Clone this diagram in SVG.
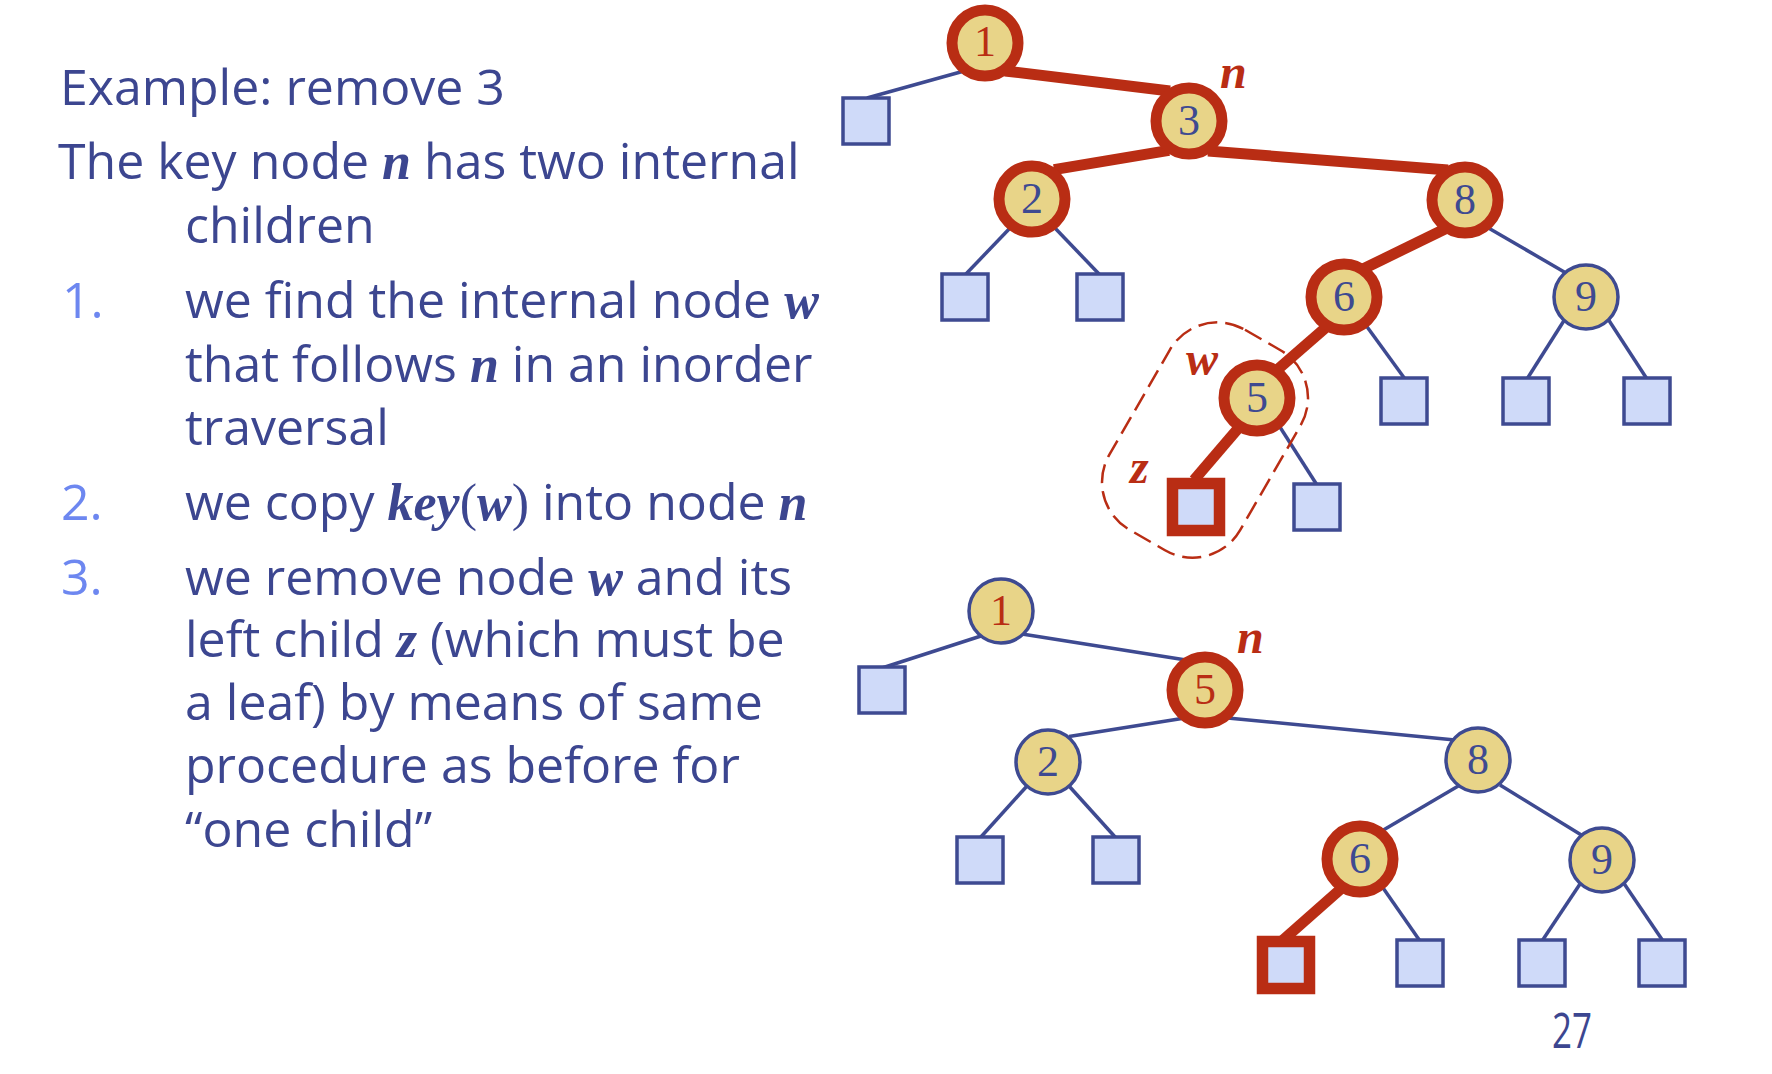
<svg xmlns="http://www.w3.org/2000/svg" width="1772" height="1074" viewBox="0 0 1772 1074">
  <style>
    .edge { stroke: #3E4A91; stroke-width: 3.5; fill: none; }
    .hot { stroke: #B92D14; stroke-width: 11; fill: none; }
    .inode { fill: #E8D488; stroke: #3E4A91; stroke-width: 3.5; }
    .inode.sel { stroke: #B92D14; stroke-width: 11; }
    .leaf { fill: #CFDAF9; stroke: #3E4A91; stroke-width: 3.5; }
    .leaf.sel { stroke: #B92D14; stroke-width: 11.5; }
    .key { font-family: "Liberation Serif", "Times New Roman", serif; font-size: 44px; fill: #3E4A91; text-anchor: middle; }
    .key.red { fill: #B92D14; }
    .lbl { font-family: "Liberation Serif", "Times New Roman", serif; font-weight: bold; font-style: italic; font-size: 48px; fill: #B92D14; }
    .body { font-family: "Open Sans", "Noto Sans", sans-serif; font-size: 50px; fill: #3C4690; }
    .num { fill: #6D87F0; }
    .var { font-family: "Liberation Serif", "Times New Roman", serif; font-weight: bold; font-style: italic; font-size: 52px; }
    .par { font-family: "Liberation Serif", "Times New Roman", serif; font-size: 52px; }
    .group { fill: none; stroke: #B92D14; stroke-width: 2.5; stroke-dasharray: 19 8; }
  </style>

  <rect x="0" y="0" width="1772" height="1074" fill="#FFFFFF"/>

  <!-- explanation text -->
  <g id="text">
    <text class="body" x="60" y="105">Example: remove 3</text>
    <text class="body" x="58" y="179">The key node <tspan class="var">n</tspan> has two internal</text>
    <text class="body" x="185" y="243">children</text>
    <text class="body num" x="62" y="318">1.</text>
    <text class="body" x="185" y="318">we find the internal node <tspan class="var">w</tspan></text>
    <text class="body" x="185" y="382">that follows <tspan class="var">n</tspan> in an inorder</text>
    <text class="body" x="185" y="445">traversal</text>
    <text class="body num" x="61" y="520">2.</text>
    <text class="body" x="185" y="520">we copy <tspan class="var">key</tspan><tspan class="par">(</tspan><tspan class="var">w</tspan><tspan class="par">)</tspan> into node <tspan class="var">n</tspan></text>
    <text class="body num" x="61" y="595">3.</text>
    <text class="body" x="185" y="595">we remove node <tspan class="var">w</tspan> and its</text>
    <text class="body" x="185" y="657">left child <tspan class="var">z</tspan> (which must be</text>
    <text class="body" x="185" y="720">a leaf) by means of same</text>
    <text class="body" x="185" y="783">procedure as before for</text>
    <text class="body" x="185" y="847">“one child”</text>
    <text class="body" x="1552" y="1048" font-size="36" textLength="40" lengthAdjust="spacingAndGlyphs">27</text>
  </g>

  <!-- connectors, upper tree -->
  <g id="connectors-before">
    <line class="edge" x1="965" y1="70.7" x2="867" y2="98"/>
    <line class="edge" x1="1011" y1="227" x2="965" y2="275"/>
    <line class="edge" x1="1054" y1="227" x2="1100" y2="275"/>
    <line class="edge" x1="1485" y1="226" x2="1566" y2="273"/>
    <line class="edge" x1="1365" y1="324" x2="1405" y2="379"/>
    <line class="edge" x1="1565" y1="319" x2="1527" y2="379"/>
    <line class="edge" x1="1608" y1="319" x2="1647" y2="379"/>
    <line class="edge" x1="1278" y1="424" x2="1317" y2="485"/>
    <line class="hot" x1="1005" y1="71" x2="1170" y2="91"/>
    <line class="hot" x1="1169" y1="150.3" x2="1054" y2="169.7"/>
    <line class="hot" x1="1208" y1="151" x2="1448" y2="170"/>
    <line class="hot" x1="1446" y1="228.5" x2="1364" y2="268.5"/>
    <line class="hot" x1="1326" y1="327.4" x2="1274" y2="372.6"/>
    <line class="hot" x1="1238.3" y1="428.2" x2="1194" y2="480"/>
  </g>

  <!-- connectors, lower tree -->
  <g id="connectors-after">
    <line class="edge" x1="981" y1="636" x2="882" y2="668"/>
    <line class="edge" x1="1022" y1="634" x2="1186" y2="660"/>
    <line class="edge" x1="1185" y1="718" x2="1069" y2="736.5"/>
    <line class="edge" x1="1225" y1="717.7" x2="1455" y2="740"/>
    <line class="edge" x1="1027" y1="786" x2="980" y2="838"/>
    <line class="edge" x1="1069" y1="786" x2="1116" y2="838"/>
    <line class="edge" x1="1460" y1="785" x2="1380" y2="832"/>
    <line class="edge" x1="1500" y1="785" x2="1583" y2="836"/>
    <line class="edge" x1="1381" y1="885" x2="1420" y2="941"/>
    <line class="edge" x1="1580" y1="884" x2="1542" y2="941"/>
    <line class="edge" x1="1623" y1="882" x2="1663" y2="941"/>
    <line class="hot" x1="1343" y1="887" x2="1283" y2="940"/>
  </g>

  <!-- upper tree: before removal -->
  <g id="a-n1"><circle class="inode sel" cx="985" cy="43" r="33"/><text class="key red" x="985" y="56">1</text></g>
  <g id="a-l1"><rect class="leaf" x="843" y="98" width="46" height="46"/></g>
  <g id="a-n3"><circle class="inode sel" cx="1189" cy="121" r="33"/><text class="key" x="1189" y="135">3</text></g>
  <g id="a-n2"><circle class="inode sel" cx="1032" cy="199" r="33"/><text class="key" x="1032" y="213">2</text></g>
  <g id="a-l2"><rect class="leaf" x="942" y="274" width="46" height="46"/></g>
  <g id="a-l3"><rect class="leaf" x="1077" y="274" width="46" height="46"/></g>
  <g id="a-n8"><circle class="inode sel" cx="1465" cy="200" r="33"/><text class="key" x="1465" y="214">8</text></g>
  <g id="a-n6"><circle class="inode sel" cx="1344" cy="297" r="33"/><text class="key" x="1344" y="311">6</text></g>
  <g id="a-n9"><circle class="inode" cx="1586" cy="297" r="32"/><text class="key" x="1586" y="311">9</text></g>
  <g id="a-l4"><rect class="leaf" x="1381" y="378" width="46" height="46"/></g>
  <g id="a-l5"><rect class="leaf" x="1503" y="378" width="46" height="46"/></g>
  <g id="a-l6"><rect class="leaf" x="1624" y="378" width="46" height="46"/></g>
  <g id="a-n5"><circle class="inode sel" cx="1257" cy="398" r="33"/><text class="key" x="1257" y="412">5</text></g>
  <g id="a-z"><rect class="leaf sel" x="1172.5" y="483.5" width="47" height="47"/></g>
  <g id="a-l7"><rect class="leaf" x="1294" y="484" width="46" height="46"/></g>

  <!-- upper tree labels and the w/z grouping -->
  <g id="a-labels">
    <text class="lbl" x="1220" y="88">n</text>
    <rect class="group" x="1129.5" y="324.5" width="151" height="231" rx="55" ry="55" transform="rotate(30 1205 440)"/>
    <text class="lbl" x="1186" y="375">w</text>
    <text class="lbl" x="1130" y="483">z</text>
  </g>

  <!-- lower tree: after removal -->
  <g id="b-n1"><circle class="inode" cx="1001" cy="611" r="32"/><text class="key red" x="1001" y="625">1</text></g>
  <g id="b-l1"><rect class="leaf" x="859" y="667" width="46" height="46"/></g>
  <g id="b-n5"><circle class="inode sel" cx="1205" cy="690" r="33"/><text class="key red" x="1205" y="704">5</text></g>
  <g id="b-n2"><circle class="inode" cx="1048" cy="762" r="32"/><text class="key" x="1048" y="776">2</text></g>
  <g id="b-l2"><rect class="leaf" x="957" y="837" width="46" height="46"/></g>
  <g id="b-l3"><rect class="leaf" x="1093" y="837" width="46" height="46"/></g>
  <g id="b-n8"><circle class="inode" cx="1478" cy="760" r="32"/><text class="key" x="1478" y="774">8</text></g>
  <g id="b-n6"><circle class="inode sel" cx="1360" cy="859" r="33"/><text class="key" x="1360" y="873">6</text></g>
  <g id="b-n9"><circle class="inode" cx="1602" cy="860" r="32"/><text class="key" x="1602" y="874">9</text></g>
  <g id="b-z"><rect class="leaf sel" x="1262.5" y="941.5" width="47" height="47"/></g>
  <g id="b-l4"><rect class="leaf" x="1397" y="940" width="46" height="46"/></g>
  <g id="b-l5"><rect class="leaf" x="1519" y="940" width="46" height="46"/></g>
  <g id="b-l6"><rect class="leaf" x="1639" y="940" width="46" height="46"/></g>
  <g id="b-labels"><text class="lbl" x="1237" y="653">n</text></g>
</svg>
